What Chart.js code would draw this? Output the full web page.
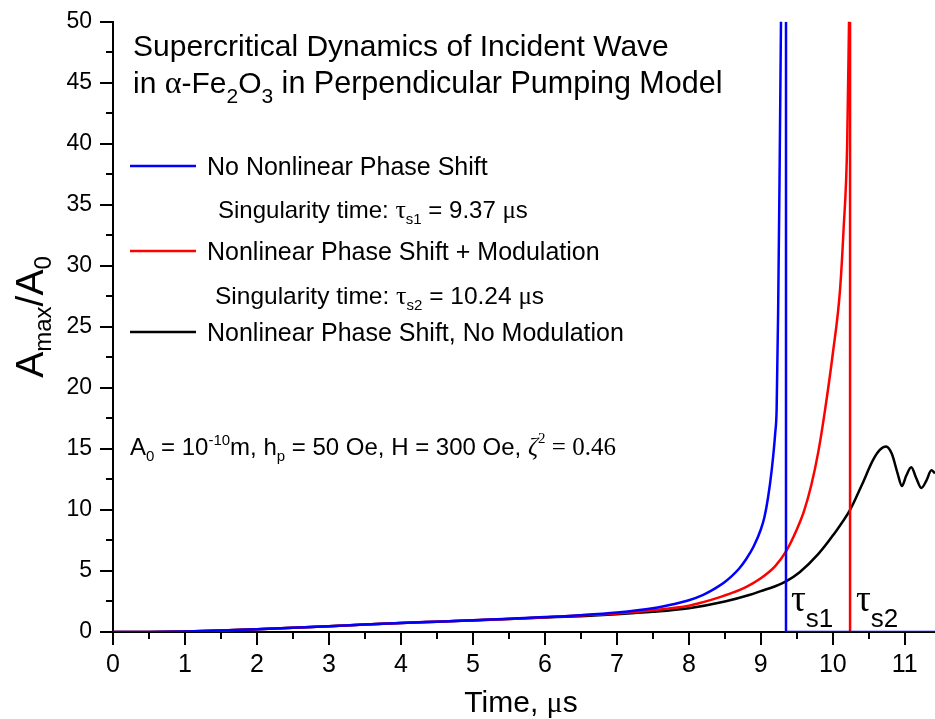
<!DOCTYPE html>
<html><head><meta charset="utf-8">
<script src="https://cdn.jsdelivr.net/npm/chart.js@4"></script>
<style>html,body{margin:0;padding:0;background:#fff;overflow:hidden}#wrap{width:935px;height:719px;position:relative}</style>
</head><body><div id="wrap"><canvas id="c"></canvas></div>
<script>
// ---- data ----
const blueT = [0,0.5,1,1.5,2,2.5,3,3.5,4,4.5,5,5.5,6,6.5,7,7.5,7.8,8.0,8.2,8.3,8.4,8.5,8.6,8.7,8.8,8.9,9.0,9.05,9.1,9.15,9.2,9.22,9.24,9.26,9.28,9.29];
const blueA = [0,0.01,0.05,0.12,0.22,0.35,0.48,0.62,0.74,0.85,0.96,1.08,1.22,1.38,1.6,1.95,2.3,2.6,3.05,3.35,3.7,4.1,4.6,5.2,6.0,7.0,8.4,9.4,11.0,13.2,16.3,18.3,26,37,50,56];
const redT = [0,0.5,1,1.5,2,2.5,3,3.5,4,4.5,5,5.5,6,6.5,7,7.5,8.0,8.2,8.4,8.6,8.8,9.0,9.2,9.35,9.5,9.6,9.7,9.8,9.89,10.0,10.1,10.15,10.2,10.23];
const redA = [0,0.01,0.05,0.12,0.22,0.35,0.48,0.62,0.74,0.85,0.96,1.07,1.2,1.35,1.52,1.78,2.15,2.45,2.8,3.2,3.7,4.4,5.4,6.6,8.4,9.9,12.0,14.8,18.1,22.8,28,33,40,52];
const blackT = [0,0.5,1,1.5,2,2.5,3,3.5,4,4.5,5,5.5,6,6.5,7,7.5,8.0,8.5,8.85,9.0,9.2,9.35,9.54,9.8,10.0,10.24,10.4,10.56,10.65,10.74,10.82,10.9,10.96,11.02,11.09,11.16,11.23,11.3,11.37,11.42];
const blackA = [0,0.01,0.05,0.12,0.22,0.35,0.48,0.62,0.74,0.85,0.95,1.06,1.18,1.3,1.45,1.65,1.95,2.5,3.05,3.35,3.75,4.15,4.9,6.4,7.9,10.0,12.0,14.1,14.9,15.2,14.6,13.0,11.97,12.8,13.5,12.6,11.8,12.4,13.25,13.0];
// singularity markers
const blueSingT = [9.35, 9.35, 11.42];
const blueSingA = [50, 0, 0];
const redSingT = [10.24, 10.24];
const redSingA = [50, 0];
// axes
const xMajorTicks = [0,1,2,3,4,5,6,7,8,9,10,11];
const yMajorTicks = [0,5,10,15,20,25,30,35,40,45,50];
const xMin = 0, xMax = 11.42, yMin = 0, yMax = 50;

const pts = (t, a) => t.map((v, i) => ({x: v, y: a[i]}));
const S = "'Liberation Sans', Arial, sans-serif";
const R = "'Liberation Serif', 'Times New Roman', serif";

function rich(ctx, x, y, segs) {
  let cx = x;
  for (const s of segs) {
    ctx.font = s.f;
    ctx.fillText(s.t, cx, y + (s.dy || 0));
    cx += ctx.measureText(s.t).width;
  }
  return cx;
}

const decor = {
  id: 'decor',
  afterDraw(chart) {
    const ctx = chart.ctx;
    const xs = chart.scales.x, ys = chart.scales.y;
    ctx.save();
    // ticks
    ctx.strokeStyle = '#000'; ctx.lineWidth = 2;
    xs.ticks.forEach(t => {
      const px = Math.round(xs.getPixelForValue(t.value));
      const len = xMajorTicks.includes(t.value) ? 13 : 7;
      ctx.beginPath(); ctx.moveTo(px, xs.top); ctx.lineTo(px, xs.top + len); ctx.stroke();
    });
    ys.ticks.forEach(t => {
      const py = Math.round(ys.getPixelForValue(t.value));
      const len = yMajorTicks.includes(t.value) ? 13 : 7;
      ctx.beginPath(); ctx.moveTo(ys.right, py); ctx.lineTo(ys.right - len, py); ctx.stroke();
    });
    ctx.fillStyle = '#000';
    ctx.textBaseline = 'alphabetic';
    ctx.textAlign = 'left';
    // title
    const F30 = '30px ' + S, sub20 = '21px ' + S;
    rich(ctx, 133, 56, [{t: 'Supercritical Dynamics of Incident Wave', f: F30}]);
    rich(ctx, 133, 93, [{t: 'in ', f: F30}, {t: 'α', f: '32px ' + R}, {t: '-Fe', f: F30}, {t: '2', f: sub20, dy: 10},
      {t: 'O', f: F30}, {t: '3', f: sub20, dy: 10}, {t: ' in Perpendicular Pumping Model', f: '30.5px ' + S}]);
    // legend
    const F25 = '25px ' + S;
    const rows = [
      {c: '#0000ff', y: 166, txt: 'No Nonlinear Phase Shift'},
      {c: '#ff0000', y: 251, txt: 'Nonlinear Phase Shift + Modulation'},
      {c: '#000000', y: 332, txt: 'Nonlinear Phase Shift, No Modulation'}
    ];
    rows.forEach(r => {
      ctx.strokeStyle = r.c; ctx.lineWidth = 2.5;
      ctx.beginPath(); ctx.moveTo(130, r.y); ctx.lineTo(196, r.y); ctx.stroke();
      rich(ctx, 207, r.y + 9, [{t: r.txt, f: F25}]);
    });
    rich(ctx, 218, 218, [{t: 'Singularity time: ', f: '24px ' + S}, {t: 'τ', f: '26px ' + R}, {t: 's1', f: '15px ' + S, dy: 6},
      {t: ' = 9.37 ', f: '24px ' + S}, {t: 'μ', f: '25px ' + R}, {t: 's', f: '24px ' + S}]);
    rich(ctx, 215, 304, [{t: 'Singularity time: ', f: '24.5px ' + S}, {t: 'τ', f: '26px ' + R}, {t: 's2', f: '15px ' + S, dy: 6},
      {t: ' = 10.24 ', f: '24.5px ' + S}, {t: 'μ', f: '25px ' + R}, {t: 's', f: '24.5px ' + S}]);
    // parameters
    rich(ctx, 130, 455, [{t: 'A', f: '24px ' + S}, {t: '0', f: '15px ' + S, dy: 6}, {t: ' = 10', f: '24px ' + S},
      {t: '-10', f: '15px ' + S, dy: -10}, {t: 'm, h', f: '24px ' + S}, {t: 'p', f: '15px ' + S, dy: 6},
      {t: ' = 50 Oe, H = 300 Oe, ', f: '24px ' + S}, {t: 'ζ', f: 'italic 25px ' + R}, {t: '2', f: '15px ' + R, dy: -12},
      {t: ' = 0.46', f: '25px ' + R}]);
    // tau labels
    rich(ctx, 791, 611, [{t: 'τ', f: '37px ' + R}, {t: 's1', f: '26px ' + S, dy: 16}]);
    rich(ctx, 856, 611, [{t: 'τ', f: '37px ' + R}, {t: 's2', f: '26px ' + S, dy: 16}]);
    // axis titles
    ctx.font = '30px ' + S;
    const w1 = ctx.measureText('Time, ').width;
    ctx.font = '30px ' + R; const w2 = ctx.measureText('μ').width;
    ctx.font = '30px ' + S; const w3 = ctx.measureText('s').width;
    rich(ctx, 521 - (w1 + w2 + w3) / 2, 712, [{t: 'Time, ', f: '30px ' + S}, {t: 'μ', f: '30px ' + R}, {t: 's', f: '30px ' + S}]);
    ctx.save();
    ctx.translate(43, 317);
    ctx.rotate(-Math.PI / 2);
    const segs = [{t: 'A', f: '39px ' + S}, {t: 'max', f: '24px ' + S, dy: 8}, {t: '/A', f: '39px ' + S}, {t: '0', f: '24px ' + S, dy: 8}];
    let tw = 0; segs.forEach(s => { ctx.font = s.f; tw += ctx.measureText(s.t).width; });
    rich(ctx, -tw / 2, 0, segs);
    ctx.restore();
    ctx.restore();
  }
};

const common = {fill: false, pointRadius: 0, borderWidth: 2.5, cubicInterpolationMode: 'monotone'};
new Chart(document.getElementById('c'), {
  type: 'line',
  data: {
    datasets: [
      {...common, data: pts(blueSingT, blueSingA), borderColor: '#0000ff', tension: 0, cubicInterpolationMode: 'default', order: 0},
      {...common, data: pts(blueT, blueA), borderColor: '#0000ff', order: 1},
      {...common, data: pts(redSingT, redSingA), borderColor: '#ff0000', tension: 0, cubicInterpolationMode: 'default', order: 2},
      {...common, data: pts(redT, redA), borderColor: '#ff0000', order: 3},
      {...common, data: pts(blackT, blackA), borderColor: '#000000', order: 4}
    ]
  },
  options: {
    responsive: true, maintainAspectRatio: false, animation: false, devicePixelRatio: 1,
    layout: {padding: {top: 21, right: 0, left: 0, bottom: 0}},
    plugins: {legend: {display: false}, tooltip: {enabled: false}},
    scales: {
      x: {
        type: 'linear', min: xMin, max: xMax,
        afterFit: s => { s.height = 87; },
        grid: {display: false, drawTicks: true, tickLength: 13},
        border: {display: true, color: '#000', width: 2},
        ticks: {stepSize: 0.5, includeBounds: false, autoSkip: false, maxRotation: 0, padding: 5, color: '#000',
          font: {family: S, size: 25},
          callback: v => xMajorTicks.includes(v) ? String(v) : ''}
      },
      y: {
        type: 'linear', min: yMin, max: yMax,
        afterFit: s => { s.width = 113; },
        grid: {display: false, drawTicks: true, tickLength: 13},
        border: {display: true, color: '#000', width: 2},
        ticks: {stepSize: 2.5, autoSkip: false, padding: 8, color: '#000',
          font: {family: S, size: 23},
          callback: v => yMajorTicks.includes(v) ? String(v) : ''}
      }
    }
  },
  plugins: [decor]
});
</script></body></html>
